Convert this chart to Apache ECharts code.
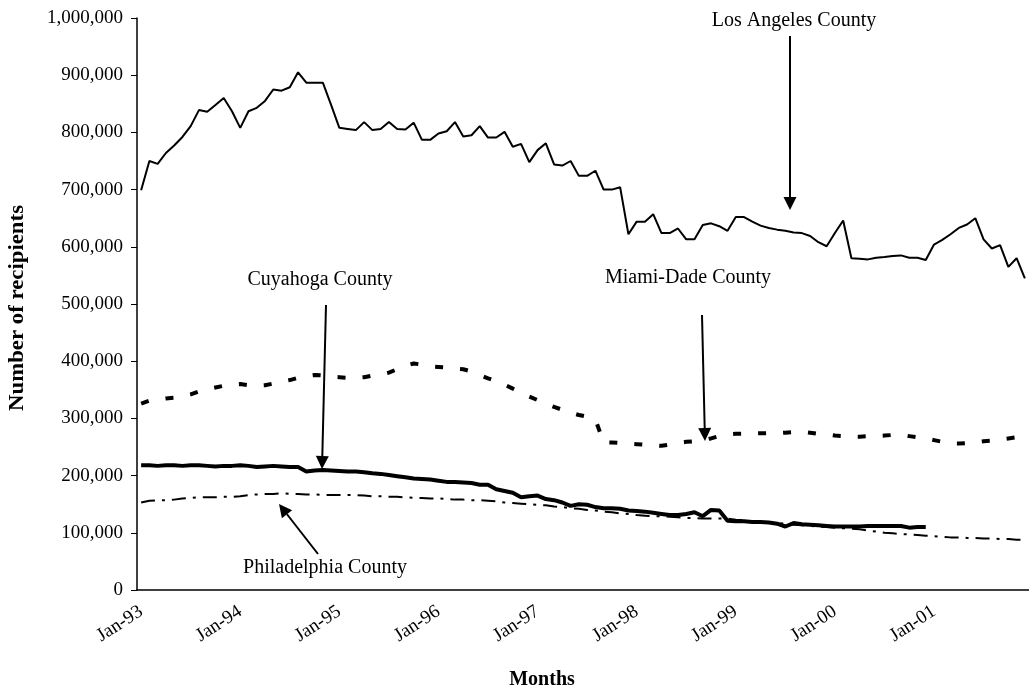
<!DOCTYPE html>
<html>
<head>
<meta charset="utf-8">
<script src="https://cdn.jsdelivr.net/npm/echarts@6/dist/echarts.min.js"></script>
<style>
  html, body { margin: 0; padding: 0; background: #fff; }
  #chart { width: 1029px; height: 696px; }
</style>
</head>
<body>
<div id="chart"></div>
<script>
// months Jan-93 .. Dec-01
const years = ['93', '94', '95', '96', '97', '98', '99', '00', '01']
const monthNames = ['Jan', 'Feb', 'Mar', 'Apr', 'May', 'Jun', 'Jul', 'Aug', 'Sep', 'Oct', 'Nov', 'Dec']
const categories = []
years.forEach(y => monthNames.forEach(m => categories.push(m + '-' + y)))

const yTicks = [0, 100000, 200000, 300000, 400000, 500000, 600000, 700000, 800000, 900000, 1000000]

const losAngeles = [
  699000, 750000, 745000, 764000, 777000, 792000, 811000, 839000, 836000, 848000, 860000, 837000,
  808000, 837000, 843000, 855000, 875000, 873000, 879000, 905000, 887000, 887000, 887000, 848000,
  808000, 806000, 804000, 818000, 804000, 806000, 818000, 806000, 805000, 817000, 787000, 787000,
  798000, 802000, 818000, 793000, 795000, 811000, 791000, 791000, 801000, 775000, 780000, 748000,
  769000, 781000, 744000, 742000, 750000, 724000, 724000, 733000, 700000, 700000, 704000, 622000,
  644000, 644000, 657000, 624000, 624000, 632000, 613000, 613000, 638000, 641000, 636000, 628000,
  652000, 652000, 644000, 637000, 633000, 630000, 628000, 625000, 624000, 619000, 608000, 601000,
  624000, 646000, 580000, 579000, 578000, 581000, 582000, 584000, 585000, 581000, 581000, 577000,
  604000, 612000, 622000, 633000, 639000, 650000, 613000, 597000, 603000, 565000, 580000, 545000
]

const miamiDade = [
  326000, 331000, 333000, 335000, 336000, 339000, 342000, 347000, 351000, 354000, 357000, 359000,
  360000, 358000, 357000, 358000, 361000, 364000, 367000, 371000, 374000, 376000, 375000, 373000,
  372000, 371000, 371000, 372000, 375000, 377000, 380000, 386000, 392000, 396000, 394000, 391000,
  390000, 389000, 387000, 386000, 382000, 376000, 370000, 365000, 359000, 352000, 345000, 338000,
  332000, 326000, 320000, 315000, 310000, 306000, 303000, 298000, 258000, 258000, 257000, 256000,
  255000, 254000, 253000, 252000, 254000, 257000, 259000, 260000, 262000, 265000, 269000, 272000,
  273000, 273000, 274000, 274000, 274000, 274000, 275000, 276000, 277000, 275000, 273000, 272000,
  270000, 269000, 268000, 268000, 269000, 269000, 270000, 271000, 271000, 269000, 267000, 265000,
  262000, 259000, 256000, 256000, 257000, 258000, 260000, 261000, 263000, 265000, 267000, 268000
]

const cuyahoga = [
  218000, 218000, 217000, 218000, 218000, 217000, 218000, 218000, 217000, 216000, 217000, 217000,
  218000, 217000, 215000, 216000, 217000, 216000, 215000, 215000, 207000, 209000, 210000, 209000,
  208000, 207000, 207000, 206000, 204000, 203000, 201000, 199000, 197000, 195000, 194000, 193000,
  191000, 189000, 189000, 188000, 187000, 184000, 184000, 176000, 173000, 170000, 162000, 164000,
  165000, 159000, 157000, 153000, 147000, 150000, 149000, 145000, 143000, 143000, 142000, 139000,
  138000, 137000, 135000, 133000, 131000, 131000, 133000, 136000, 129000, 140000, 139000, 121000,
  120000, 120000, 119000, 119000, 118000, 116000, 111000, 117000, 115000, 114000, 113000, 112000,
  111000, 111000, 111000, 111000, 112000, 112000, 112000, 112000, 112000, 109000, 110000, 110000
]

const philadelphia = [
  153000, 156000, 157000, 157000, 158000, 160000, 161000, 162000, 162000, 162000, 163000, 163000,
  164000, 166000, 167000, 168000, 168000, 169000, 168000, 168000, 167000, 167000, 166000, 166000,
  166000, 166000, 166000, 165000, 164000, 164000, 163000, 163000, 162000, 161000, 161000, 160000,
  160000, 159000, 158000, 158000, 157000, 157000, 156000, 155000, 153000, 152000, 151000, 150000,
  149000, 148000, 146000, 145000, 143000, 142000, 140000, 139000, 137000, 136000, 134000, 133000,
  131000, 130000, 129000, 129000, 128000, 127000, 126000, 126000, 125000, 125000, 125000, 125000,
  123000, 122000, 120000, 119000, 118000, 117000, 116000, 114000, 113000, 112000, 111000, 110000,
  109000, 108000, 107000, 106000, 104000, 102000, 100000, 99000, 98000, 97000, 96000, 95000,
  94000, 93000, 92000, 92000, 91000, 91000, 90000, 90000, 89000, 89000, 88000, 88000
]

const FONT = "'Liberation Serif', 'Times New Roman', serif"

// annotation arrow: line plus filled head
function arrow(x1, y1, x2, y2) {
  const a = Math.atan2(y2 - y1, x2 - x1)
  const L = 13, W = 6.5
  const bx = x2 - L * Math.cos(a), by = y2 - L * Math.sin(a)
  const px = -Math.sin(a) * W, py = Math.cos(a) * W
  return [
    { type: 'line', shape: { x1: x1, y1: y1, x2: bx, y2: by }, style: { stroke: '#000', lineWidth: 2 } },
    { type: 'polygon', shape: { points: [[x2, y2], [bx + px, by + py], [bx - px, by - py]] }, style: { fill: '#000' } }
  ]
}

function label(text, x, y) {
  return {
    type: 'text', x: x, y: y,
    style: { text: text, fontSize: 20, fontFamily: FONT, fill: '#000', align: 'center', verticalAlign: 'middle' }
  }
}

const chart = echarts.init(document.getElementById('chart'))

chart.setOption({
  animation: false,
  backgroundColor: '#fff',
  textStyle: { fontFamily: FONT, color: '#000' },
  grid: { left: 137, right: 0, top: 18, bottom: 106, containLabel: false, outerBoundsMode: 'none' },
  xAxis: {
    type: 'category',
    data: categories,
    boundaryGap: true,
    name: 'Months',
    nameLocation: 'middle',
    nameGap: 80,
    nameTextStyle: { fontFamily: FONT, fontWeight: 'bold', fontSize: 20, color: '#000', padding: [0, 82, 0, 0] },
    axisLine: { lineStyle: { color: '#000', width: 1.5 } },
    axisTick: { interval: 11, length: 6, lineStyle: { color: '#000' } },
    axisLabel: { interval: 11, rotate: 33, margin: 20, fontSize: 19, fontFamily: FONT, color: '#000' },
    splitLine: { show: false }
  },
  yAxis: {
    type: 'value',
    min: yTicks[0],
    max: yTicks[yTicks.length - 1],
    interval: yTicks[1] - yTicks[0],
    axisLine: { show: true, lineStyle: { color: '#000', width: 1.5 } },
    axisTick: { show: true, length: 6, lineStyle: { color: '#000' } },
    axisLabel: {
      margin: 14, fontSize: 19, fontFamily: FONT, color: '#000',
      formatter: v => v.toLocaleString('en-US')
    },
    splitLine: { show: false }
  },
  series: [
    {
      name: 'Los Angeles County', type: 'line', data: losAngeles, symbol: 'none',
      lineStyle: { color: '#000', width: 2 }
    },
    {
      name: 'Miami-Dade County', type: 'line', data: miamiDade, symbol: 'none',
      lineStyle: { color: '#000', width: 4, type: [8, 17], cap: 'butt' }
    },
    {
      name: 'Cuyahoga County', type: 'line', data: cuyahoga, symbol: 'none',
      lineStyle: { color: '#000', width: 4 }
    },
    {
      name: 'Philadelphia County', type: 'line', data: philadelphia, symbol: 'none',
      lineStyle: { color: '#000', width: 2, type: [14, 7, 3, 7] }
    }
  ],
  graphic: [
    // y axis title, stretched along its baseline like the original
    {
      type: 'text', x: 18, y: 308, rotation: Math.PI / 2, scaleX: 1.14,
      style: {
        text: 'Number of recipients', fontSize: 20, fontWeight: 'bold', fontFamily: FONT,
        fill: '#000', align: 'center', verticalAlign: 'middle'
      }
    },
    label('Los Angeles County', 794, 21),
    label('Cuyahoga County', 320, 280),
    label('Miami-Dade County', 688, 278),
    label('Philadelphia County', 325, 568),
    ...arrow(790, 36, 790, 210),
    ...arrow(326, 305, 322, 469),
    ...arrow(702, 315, 705, 441),
    ...arrow(318, 554, 279, 504)
  ]
})
</script>
</body>
</html>
